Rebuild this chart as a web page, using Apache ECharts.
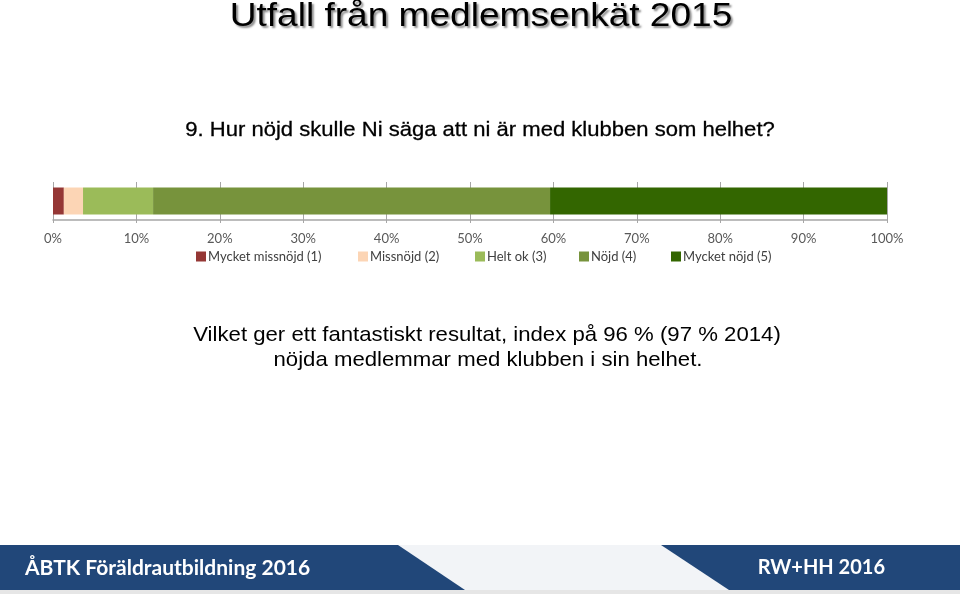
<!DOCTYPE html>
<html>
<head>
<meta charset="utf-8">
<script src="https://cdn.jsdelivr.net/npm/echarts@6/dist/echarts.min.js"></script>
<style>html,body{margin:0;padding:0;background:#fff}#c{width:960px;height:594px}</style>
</head>
<body>
<div id="c"></div>
<script>
var categories = ['Helhet'];
var seriesNames = ['Mycket missnöjd (1)', 'Missnöjd (2)', 'Helt ok (3)', 'Nöjd (4)', 'Mycket nöjd (5)'];
var seriesValues = [1.3, 2.3, 8.4, 47.6, 40.4];
var tickValues = [0, 10, 20, 30, 40, 50, 60, 70, 80, 90, 100];
var colors = ['#953735', '#FCD5B5', '#9BBB59', '#77933C', '#336600'];
var legendLefts = [191, 353, 470, 574, 666];

var chart = echarts.init(document.getElementById('c'), null, {renderer: 'canvas'});
var series = seriesNames.map(function (n, i) {
  return {
    name: n, type: 'bar', stack: 'total', barWidth: 27,
    itemStyle: {color: colors[i]},
    data: [seriesValues[i]]
  };
});
var legends = seriesNames.map(function (n, i) {
  return {
    data: [n], left: legendLefts[i], top: 245, itemWidth: 10, itemHeight: 10,
    itemGap: 0, icon: 'rect',
    textStyle: {fontFamily: 'Lato', fontSize: 13, color: '#404040', padding: [0, 0, 0, -3]}
  };
});
chart.setOption({
  animation: false,
  grid: {left: 53, right: 73, top: 182, height: 38},
  legend: legends,
  xAxis: {
    type: 'value', min: tickValues[0], max: tickValues[tickValues.length - 1], interval: 10,
    axisLine: {show: true, lineStyle: {color: '#A6A6A6', width: 1.5}},
    axisTick: {show: true, length: 3, lineStyle: {color: '#A6A6A6'}},
    splitLine: {show: true, lineStyle: {color: '#A6A6A6', width: 1}},
    axisLabel: {formatter: '{value}%', fontFamily: 'Lato', fontSize: 13, color: '#595959', margin: 12}
  },
  yAxis: {
    type: 'category', data: categories,
    axisLine: {show: false}, axisTick: {show: false}, axisLabel: {show: false}
  },
  series: series,
  graphic: [
    {type: 'rect', shape: {x: 0, y: 545, width: 960, height: 45}, style: {fill: '#214779'}, z: 0},
    {type: 'polygon', shape: {points: [[398, 545], [661, 545], [729, 590], [465, 590]]}, style: {fill: '#F2F4F7'}, z: 1},
    {type: 'rect', shape: {x: 0, y: 590, width: 960, height: 4}, style: {fill: '#E6E6E6'}, z: 1},
    {type: 'text', x: 25, y: 568, z: 2, style: {text: 'ÅBTK Föräldrautbildning 2016', fill: '#fff', font: 'bold 21px Lato', textVerticalAlign: 'middle'}},
    {type: 'text', x: 885, y: 568, z: 2, style: {text: 'RW+HH 2016', fill: '#fff', font: 'bold 20px Lato', textAlign: 'right', textVerticalAlign: 'middle'}},
    {type: 'text', x: 481, y: 17, z: 2, scaleX: 1.09, style: {text: 'Utfall från medlemsenkät 2015', fill: '#000', font: '34px "Liberation Sans"', textAlign: 'center', textVerticalAlign: 'middle', textShadowColor: 'rgba(0,0,0,0.45)', textShadowBlur: 2, textShadowOffsetX: 2, textShadowOffsetY: 2}},
    {type: 'text', x: 480, y: 130, z: 2, scaleX: 1.05, style: {text: '9. Hur nöjd skulle Ni säga att ni är med klubben som helhet?', fill: '#000', font: '21px "Liberation Sans"', textAlign: 'center', textVerticalAlign: 'middle', stroke: '#000', lineWidth: 0.3}},
    {type: 'text', x: 487, y: 335, z: 2, scaleX: 1.056, style: {text: 'Vilket ger ett fantastiskt resultat, index på 96 % (97 % 2014)', fill: '#000', font: '21px "Liberation Sans"', textAlign: 'center', textVerticalAlign: 'middle'}},
    {type: 'text', x: 488, y: 360, z: 2, scaleX: 1.056, style: {text: 'nöjda medlemmar med klubben i sin helhet.', fill: '#000', font: '21px "Liberation Sans"', textAlign: 'center', textVerticalAlign: 'middle'}}
  ]
});
</script>
</body>
</html>
